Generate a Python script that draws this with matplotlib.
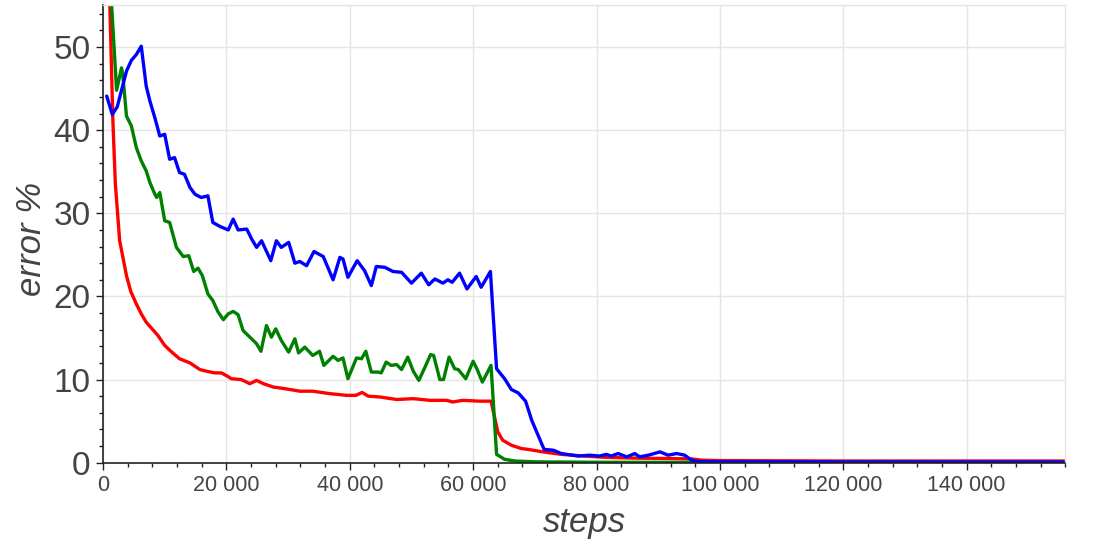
import matplotlib
matplotlib.use("Agg")
import matplotlib.pyplot as plt
from matplotlib.ticker import MultipleLocator, FuncFormatter

# data (steps, error %)
blue_steps = [600, 1500, 2300, 3000, 3800, 4600, 5400, 6200, 7000, 7600,
              8400, 9200, 10000, 10800, 11600, 12400, 13200, 14100, 14900, 15900,
              17000, 17800, 19000, 20300, 21100, 21900, 23300, 24100, 24900, 25700,
              27200, 28100, 28900, 30100, 31100, 31900, 33000, 34200, 35700, 37300,
              38400, 38900, 39700, 41200, 42400, 43500, 44300, 45700, 47000, 48400,
              50000, 51600, 52800, 53800, 55100, 55900, 56600, 57800, 59000, 60500,
              61300, 62800, 63800, 65100, 66200, 67300, 68500, 69500, 70300, 71500,
              73000, 74300, 77000, 78900, 80500, 81600, 82400, 83500, 84900, 86200,
              87000, 88400, 90300, 91600, 93000, 94300, 95400, 96200, 100000, 110000,
              120000, 130000, 140000, 150000, 156000]
blue_err = [44.1, 41.9, 42.8, 44.8, 47.1, 48.4, 49.1, 50.1, 45.3, 43.5,
            41.5, 39.3, 39.5, 36.5, 36.7, 34.9, 34.7, 33.1, 32.3, 31.9,
            32.1, 28.9, 28.4, 28.0, 29.3, 28.0, 28.1, 26.9, 25.9, 26.7,
            24.3, 26.7, 25.9, 26.5, 24.0, 24.2, 23.7, 25.4, 24.8, 22.0,
            24.7, 24.5, 22.3, 24.3, 23.1, 21.3, 23.6, 23.5, 23.0, 22.9,
            21.6, 22.8, 21.4, 22.1, 21.6, 22.0, 21.7, 22.8, 20.9, 22.4,
            21.1, 23.0, 11.3, 10.1, 8.8, 8.4, 7.4, 5.1, 3.7, 1.6,
            1.5, 1.1, 0.8, 0.9, 0.8, 1.0, 0.8, 1.1, 0.7, 1.1,
            0.7, 0.9, 1.3, 0.9, 1.1, 0.9, 0.3, 0.15, 0.1, 0.1,
            0.08, 0.08, 0.07, 0.07, 0.07]

green_steps = [1000, 2200, 3000, 3200, 3800, 4600, 5400, 6200, 7000, 7600,
               8400, 8700, 9200, 10000, 10800, 11900, 13000, 13900, 14700, 15400,
               16100, 17000, 17800, 18600, 19500, 20300, 21100, 21900, 22700, 23800,
               24900, 25600, 26500, 27300, 28000, 28900, 30100, 31100, 31700, 32700,
               34000, 35100, 35800, 37300, 38100, 38900, 39700, 41100, 41900, 42600,
               43500, 44600, 45100, 45900, 46700, 47600, 48400, 49400, 50300, 51200,
               52200, 53100, 53600, 54600, 55200, 56100, 57000, 57600, 58800, 60000,
               60600, 61500, 62900, 63800, 65100, 66800, 70000, 80000, 100000, 120000,
               140000, 156000]
green_err = [60, 44.8, 47.5, 46.7, 41.7, 40.5, 37.9, 36.3, 35.1, 33.7,
             32.3, 31.9, 32.5, 29.1, 28.9, 25.9, 24.8, 24.9, 23.0, 23.4,
             22.5, 20.3, 19.5, 18.2, 17.2, 17.9, 18.2, 17.8, 15.9, 15.1,
             14.3, 13.4, 16.5, 15.1, 16.1, 14.7, 13.3, 14.9, 13.2, 13.9,
             12.9, 13.4, 11.7, 12.8, 12.3, 12.6, 10.1, 12.6, 12.5, 13.4,
             10.9, 10.9, 10.8, 12.1, 11.7, 11.8, 11.2, 12.7, 11.0, 9.9,
             11.5, 13.0, 12.9, 10.0, 10.0, 12.7, 11.3, 11.2, 10.1, 12.2,
             11.3, 9.7, 11.7, 1.0, 0.4, 0.2, 0.1, 0.05, 0.03, 0.03,
             0.03, 0.03]

red_steps = [1000, 1600, 2000, 2700, 3800, 4500, 5400, 6200, 7000, 8900,
             10000, 11000, 12400, 14100, 15700, 16800, 18100, 19200, 20400, 20800,
             22400, 23800, 24900, 26000, 27600, 28600, 30300, 31900, 34000, 36800,
             39500, 41000, 42000, 43000, 44900, 47600, 50300, 53000, 55700, 56700,
             58300, 61000, 62900, 64000, 64800, 66200, 67800, 68900, 71300, 74300,
             78000, 81300, 86000, 92000, 95500, 97000, 100000, 120000, 140000, 156000]
red_err = [58, 41.1, 33.5, 26.7, 22.5, 20.6, 19.1, 17.9, 16.9, 15.3,
           14.1, 13.4, 12.5, 12.0, 11.2, 11.0, 10.8, 10.8, 10.3, 10.1,
           10.0, 9.5, 9.9, 9.5, 9.1, 9.0, 8.8, 8.6, 8.6, 8.3,
           8.1, 8.1, 8.45, 8.0, 7.9, 7.6, 7.7, 7.5, 7.5, 7.3,
           7.5, 7.4, 7.4, 3.7, 2.7, 2.1, 1.7, 1.6, 1.3, 1.0,
           0.8, 0.65, 0.55, 0.5, 0.45, 0.3, 0.25, 0.2, 0.2, 0.2]

plt.rcParams['font.family'] = ['Liberation Sans', 'DejaVu Sans']

fig = plt.figure(figsize=(10.96, 5.48), dpi=100)
ax = fig.add_axes([0.094, 0.1557, 0.878, 0.8343])

kw = dict(lw=2.4, solid_joinstyle='round', solid_capstyle='round')
ax.plot(red_steps, red_err, color='#ff0000', **kw)
ax.plot(green_steps, green_err, color='#008000', **kw)
ax.plot(blue_steps, blue_err, color='#0000ff', **kw)

ax.set_xlim(0, 156000)
ax.set_ylim(0, 55)

ax.xaxis.set_major_locator(MultipleLocator(20000))
ax.xaxis.set_minor_locator(MultipleLocator(4000))
ax.yaxis.set_major_locator(MultipleLocator(10))
ax.yaxis.set_minor_locator(MultipleLocator(2))
ax.xaxis.set_major_formatter(FuncFormatter(lambda v, p: f"{int(v):,}".replace(",", " ")))

ax.grid(True, which='major', color='#e5e5e5', lw=1)
ax.set_axisbelow(True)

for s in ['top', 'right']:
    ax.spines[s].set_color('#e5e5e5')
    ax.spines[s].set_linewidth(1)
for s in ['left', 'bottom']:
    ax.spines[s].set_color('#222222')
    ax.spines[s].set_linewidth(1.2)

ax.tick_params(axis='both', which='major', direction='out', length=5, width=1, color='#222222')
ax.tick_params(axis='both', which='minor', direction='out', length=3, width=1, color='#222222')
ax.tick_params(axis='y', which='major', labelsize=24, labelcolor='#444444', pad=4)
ax.tick_params(axis='x', which='major', labelsize=15.5, labelcolor='#444444', pad=4)

ax.set_xlabel('steps', fontsize=25, style='italic', color='#444444', labelpad=7)
ax.set_ylabel('error %', fontsize=25, style='italic', color='#444444')
# the label sits closer to the axis than the tick column (Bokeh style)
ax.yaxis.set_label_coords(-0.057, 0.49)

fig.savefig('out.png', dpi=100)
